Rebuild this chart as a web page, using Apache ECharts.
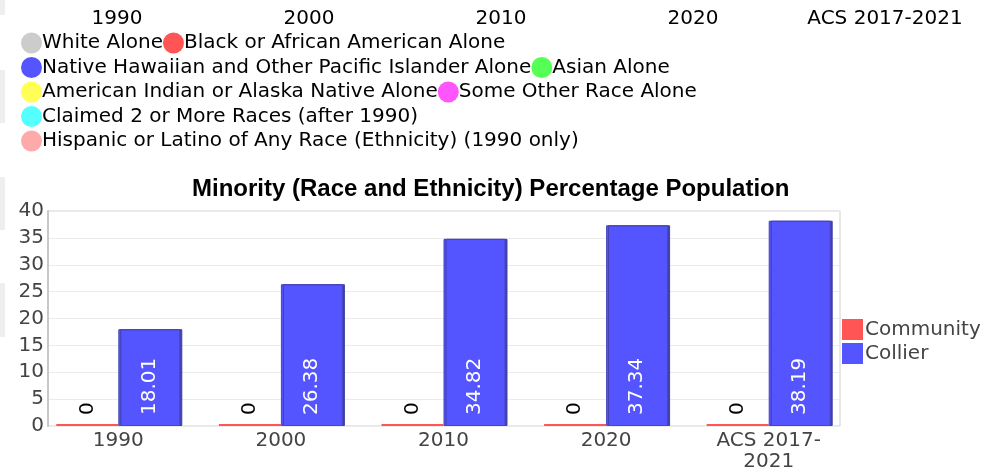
<!DOCTYPE html>
<html>
<head>
<meta charset="UTF-8">
<title>Minority Percentage Population</title>
<script type="text/javascript" src="https://cdn.jsdelivr.net/npm/echarts@6/dist/echarts.min.js"></script>
<style>
  html, body { margin: 0; padding: 0; background: #fff; }
</style>
</head>
<body>

<div id="box" style="width:1000px;height:473px;"></div>

<script type="text/javascript">

// categories (x axis and header row)
var years = ['1990', '2000', '2010', '2020', 'ACS 2017-2021'];
// series values
var community = [0, 0, 0, 0, 0];
var collier = [18.01, 26.38, 34.82, 37.34, 38.19];
// y ticks
var yMin = 0, yMax = 40, yStep = 5;

// race legend on top (belongs to the page, not to the bar chart)
var raceNames = [
  'White Alone', 'Black or African American Alone',
  'Native Hawaiian and Other Pacific Islander Alone', 'Asian Alone',
  'American Indian or Alaska Native Alone', 'Some Other Race Alone',
  'Claimed 2 or More Races (after 1990)',
  'Hispanic or Latino of Any Race (Ethnicity) (1990 only)'
];
var raceColors = ['#cccccc', '#ff5555', '#5555ff', '#55ff55', '#ffff55', '#ff55ff', '#55ffff', '#ffaaaa'];
var raceRows = [[0, 1], [2, 3], [4, 5], [6], [7]];

var mychart = echarts.init(document.getElementById('box'));

var font = 'DejaVu Sans';

// rich text styles: one dot per race
var rich = { t: { fontFamily: font, fontSize: 20, color: '#444', height: 22 } };
raceColors.forEach(function (c, i) {
  rich['c' + i] = { width: 21, height: 21, borderRadius: 10.5, backgroundColor: c };
});

var graphics = [];
// grey strips on the left edge
[[0, 15], [70, 53], [177, 53], [283, 54]].forEach(function (r) {
  graphics.push({ type: 'rect', shape: { x: 0, y: r[0], width: 5, height: r[1] }, style: { fill: '#eeeeee' }, silent: true });
});
// header row
years.forEach(function (y, i) {
  graphics.push({
    type: 'text', x: 117 + i * 192, y: 19,
    style: { text: y, font: '20px "DejaVu Sans"', fill: '#000', align: 'center', verticalAlign: 'middle' }
  });
});
// race legend rows
raceRows.forEach(function (row, r) {
  var txt = row.map(function (k) { return '{c' + k + '| }{t|' + raceNames[k] + '}'; }).join('');
  graphics.push({
    type: 'text', x: 21, y: 43 + r * 24.5,
    style: { text: txt, rich: rich, verticalAlign: 'middle', align: 'left' }
  });
});

var option = {
  animation: false,
  title: {
    text: 'Minority (Race and Ethnicity) Percentage Population',
    left: 192, top: 177, padding: 0,
    textStyle: { fontFamily: 'Liberation Sans', fontWeight: 'bold', fontSize: 24, color: '#000' }
  },
  legend: {
    data: ['Community', 'Collier'],
    orient: 'vertical', left: 842, top: 319, padding: 0,
    itemWidth: 21, itemHeight: 21, itemGap: 3, icon: 'rect',
    itemStyle: { borderWidth: 0, shadowBlur: 0, shadowOffsetX: 0 },
    textStyle: { fontFamily: font, fontSize: 20, color: '#444', padding: [0, 0, 0, -3] }
  },
  graphic: graphics,
  grid: [
    // bars
    { left: 37, top: 211, width: 813, height: 215, outerBoundsMode: 'none' },
    // frame, y labels and grid lines
    { left: 48, top: 211, width: 792, height: 215, outerBoundsMode: 'none',
      show: true, borderColor: '#d0d0d0', borderWidth: 1, z: 0 }
  ],
  xAxis: [
    {
      gridIndex: 0, type: 'category', data: years,
      axisLine: { show: false }, axisTick: { show: false },
      axisLabel: {
        fontFamily: font, fontSize: 20, color: '#444', margin: 4, lineHeight: 21,
        formatter: function (v) { return v.replace('2017-', '2017-\n'); }
      }
    },
    { gridIndex: 1, type: 'value', show: false }
  ],
  yAxis: [
    { gridIndex: 0, type: 'value', min: yMin, max: yMax, interval: yStep, show: false },
    {
      gridIndex: 1, type: 'value', min: yMin, max: yMax, interval: yStep,
      axisLine: { show: true, lineStyle: { color: '#c8c8c8', width: 2 } },
      axisTick: { show: false },
      splitLine: { lineStyle: { color: '#ebebeb' } },
      axisLabel: { fontFamily: font, fontSize: 20, color: '#444', margin: 4 }
    }
  ],
  series: [
    {
      name: 'Community', type: 'bar', xAxisIndex: 0, yAxisIndex: 0,
      data: community, barWidth: 62, barGap: '0%', barMinHeight: 2,
      itemStyle: { color: '#ff5555' },
      label: {
        show: true, position: 'insideBottom', distance: 11, rotate: 90,
        align: 'left', verticalAlign: 'middle',
        fontFamily: font, fontSize: 20, color: '#000'
      }
    },
    {
      name: 'Collier', type: 'bar', xAxisIndex: 0, yAxisIndex: 0,
      data: collier, barWidth: 62, barGap: '0%',
      itemStyle: {
        color: '#5555ff', borderColor: '#4646c0', borderWidth: 1,
        shadowColor: '#4040a8', shadowOffsetX: 2, shadowOffsetY: 0, shadowBlur: 0
      },
      label: {
        show: true, position: 'insideBottom', distance: 11, rotate: 90,
        align: 'left', verticalAlign: 'middle',
        fontFamily: font, fontSize: 20, color: '#fff'
      }
    }
  ]
};

mychart.setOption(option);
</script>
</body>
</html>
